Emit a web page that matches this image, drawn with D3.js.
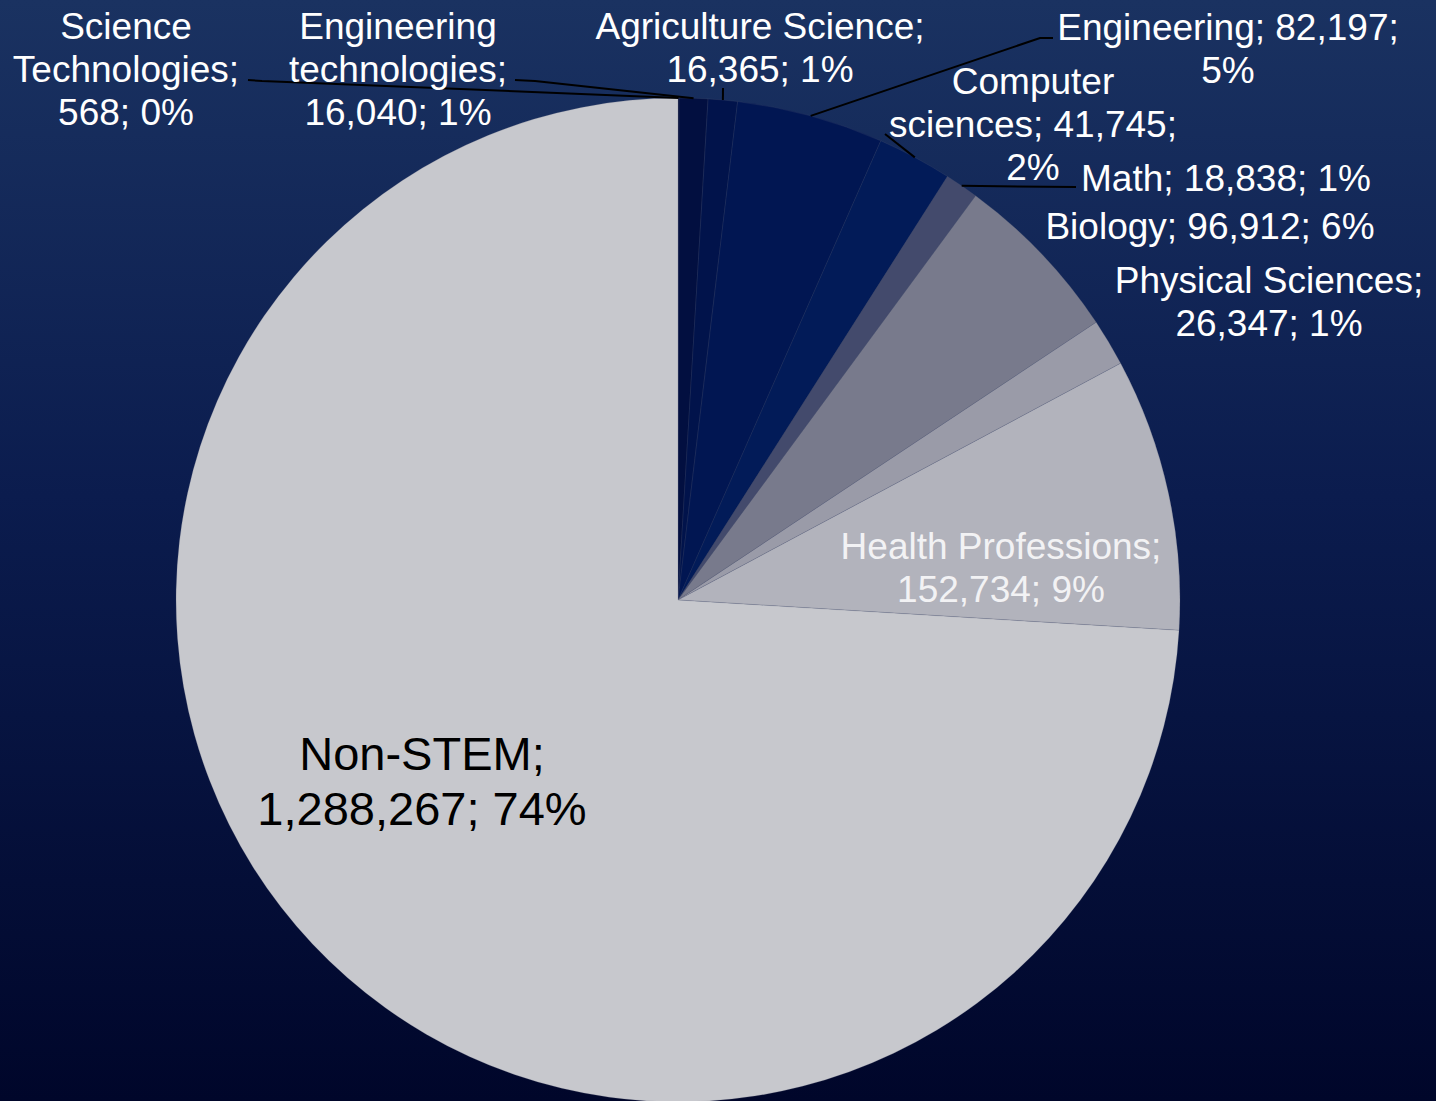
<!DOCTYPE html>
<html>
<head>
<meta charset="utf-8">
<script src="https://cdn.jsdelivr.net/npm/d3@7"></script>
<style>
  html, body { margin: 0; padding: 0; background: #000628; }
  svg { display: block; }
  text { font-family: "Liberation Sans", Arial, sans-serif; }
</style>
</head>
<body>
<div id="chart"></div>
<script>
// Daten
const categories = ["Science Technologies", "Engineering technologies", "Agriculture Science",
  "Engineering", "Computer sciences", "Math", "Biology", "Physical Sciences",
  "Health Professions", "Non-STEM"];
const values = [568, 16040, 16365, 82197, 41745, 18838, 96912, 26347, 152734, 1288267];
const percentLabels = ["0%", "1%", "1%", "5%", "2%", "1%", "6%", "1%", "9%", "74%"];
const sliceColors = ["#000c38", "#020f40", "#01134b", "#011652", "#021b58",
  "#434a6c", "#787a8c", "#9a9ba8", "#b2b3bc", "#c7c8cd"];

const width = 1436;
const height = 1101;
const cx = 678, cy = 600, radius = 502;

// Layout der Beschriftungen: Mitte x, erste Grundlinie, Wörter pro Zeile, Leader-Startpunkte
const labelLayout = {
  "Science Technologies": { x: 126, y: 39, wrap: [1, 1, 2], lead: [[248, 80], [262, 81]] },
  "Engineering technologies": { x: 398, y: 39, wrap: [1, 1, 2], lead: [[515, 80], [535, 81]] },
  "Agriculture Science": { x: 760, y: 39, wrap: [2, 2], lead: [[723, 88]] },
  "Engineering": { x: 1228, y: 40, wrap: [2, 1], lead: [[1053, 38], [1040, 38]] },
  "Computer sciences": { x: 1033, y: 94, wrap: [1, 2, 1], lead: [[885, 134]] },
  "Math": { x: 1226, y: 191, wrap: [3], lead: [[1076, 187]] },
  "Biology": { x: 1210, y: 239, wrap: [3] },
  "Physical Sciences": { x: 1269, y: 293, wrap: [2, 2] },
  "Health Professions": { x: 1001, y: 559, wrap: [2, 2], color: "#f2f2f4" },
  "Non-STEM": { x: 422, y: 770, wrap: [1, 2], color: "#000000", size: 47, lh: 55 }
};

const data = categories.map((c, i) => ({ name: c, value: values[i], pct: percentLabels[i], color: sliceColors[i] }));

const svg = d3.select("#chart")
  .append("svg")
  .attr("width", width)
  .attr("height", height);

// Hintergrund-Verlauf
const defs = svg.append("defs");
const grad = defs.append("linearGradient")
  .attr("id", "bg")
  .attr("x1", 0).attr("y1", 0).attr("x2", 0).attr("y2", 1);
grad.append("stop").attr("offset", "0%").attr("stop-color", "#1a3261");
grad.append("stop").attr("offset", "45%").attr("stop-color", "#0b1c4e");
grad.append("stop").attr("offset", "100%").attr("stop-color", "#00062a");

svg.append("rect")
  .attr("width", width)
  .attr("height", height)
  .attr("fill", "url(#bg)");

const pie = d3.pie()
  .value(d => d.value)
  .sort(null);

const arc = d3.arc()
  .innerRadius(0)
  .outerRadius(radius);

const arcs = pie(data);

const g = svg.append("g")
  .attr("transform", `translate(${cx},${cy})`);

g.selectAll("path")
  .data(arcs)
  .enter()
  .append("path")
  .attr("d", arc)
  .attr("fill", d => d.data.color)
  .attr("stroke", "#5a5f78")
  .attr("stroke-opacity", 0.2)
  .attr("stroke-width", 1);

// Leader-Linien: vom Text zum Mittelpunkt des Bogens
const line = d3.line();
arcs.forEach(a => {
  const lay = labelLayout[a.data.name];
  if (!lay.lead) return;
  const mid = (a.startAngle + a.endAngle) / 2;
  const end = [cx + radius * Math.sin(mid), cy - radius * Math.cos(mid)];
  svg.append("path")
    .attr("d", line(lay.lead.concat([end])))
    .attr("fill", "none")
    .attr("stroke", "#000000")
    .attr("stroke-width", 2);
});

// Beschriftungen
const fmt = d3.format(",");
arcs.forEach(a => {
  const lay = labelLayout[a.data.name];
  const words = `${a.data.name}; ${fmt(a.data.value)}; ${a.data.pct}`.split(" ");
  const lines = [];
  let k = 0;
  lay.wrap.forEach(n => {
    lines.push(words.slice(k, k + n).join(" "));
    k += n;
  });
  const size = lay.size || 37;
  const lh = lay.lh || 43;
  const t = svg.append("text")
    .attr("text-anchor", "middle")
    .attr("font-size", size)
    .attr("fill", lay.color || "#ffffff");
  lines.forEach((l, i) => {
    t.append("tspan")
      .attr("x", lay.x)
      .attr("y", lay.y + i * lh)
      .text(l);
  });
});
</script>
</body>
</html>
